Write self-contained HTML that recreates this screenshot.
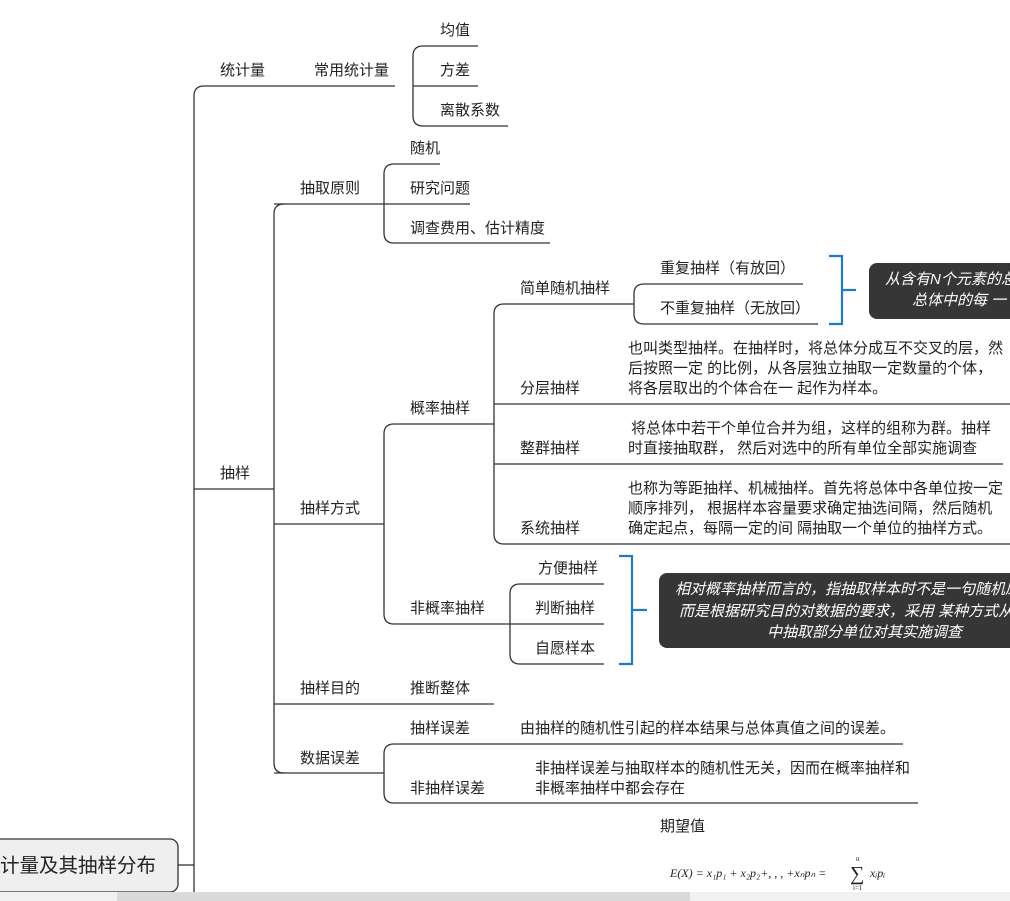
<!DOCTYPE html>
<html><head><meta charset="utf-8"><style>
html,body{margin:0;padding:0;background:#fff;width:1010px;height:901px;overflow:hidden}
svg{display:block}
text{font-family:"Liberation Sans","Noto Sans CJK SC",sans-serif;font-size:15px;fill:#222}
.w{fill:#fff;font-style:italic;font-size:15px}
</style></head><body>
<svg width="1010" height="901" viewBox="0 0 1010 901">
<g fill="none" stroke="#333" stroke-width="1.3">
<rect x="-20" y="839" width="198" height="53" rx="8" fill="#efefef"/>
<path d="M178 865 H194"/>
<path d="M204 86 Q194 86 194 96 V901"/>
<path d="M204 86 H395"/>
<path d="M423 46 Q413 46 413 56 V116 Q413 126 423 126"/>
<path d="M413 86 H478 M423 46 H478 M423 126 H508"/>
<path d="M194 489 H274"/>
<path d="M284 204 Q274 204 274 214 V763 Q274 773 284 773"/>
<path d="M274 204 H384"/>
<path d="M394 164 Q384 164 384 174 V233 Q384 243 394 243"/>
<path d="M394 164 H440 M384 204 H470 M394 243 H550"/>
<path d="M274 524 H384"/>
<path d="M394 424 Q384 424 384 434 V614 Q384 624 394 624"/>
<path d="M394 424 H494"/>
<path d="M504 304 Q494 304 494 314 V534 Q494 544 504 544"/>
<path d="M504 304 H634 M494 404 H1010 M494 464 H1003 M504 544 H1010"/>
<path d="M644 284 Q634 284 634 294 V314 Q634 324 644 324"/>
<path d="M644 284 H803 M644 324 H818"/>
<path d="M394 624 H494"/>
<path d="M520 584 Q510 584 510 594 V654 Q510 664 520 664"/>
<path d="M494 624 H604 M520 584 H604 M520 664 H604"/>
<path d="M274 704 H494"/>
<path d="M274 773 H384"/>
<path d="M394 744 Q384 744 384 754 V793 Q384 803 394 803"/>
<path d="M394 744 H903 M394 803 H918"/>
</g>
<g fill="none" stroke="#1f7ac9" stroke-width="2.2">
<path d="M829 256 H842 V324 H829 M842 290 H856"/>
<path d="M619 556 H632 V664 H619 M632 610 H647"/>
</g>
<rect x="869" y="263" width="160" height="56" rx="8" fill="#363636"/>
<text class="w" x="885" y="284">从含有N个元素的总体</text>
<text class="w" x="912" y="305">总体中的每 一</text>
<rect x="659" y="573" width="370" height="75" rx="8" fill="#363636"/>
<text class="w" x="675" y="594">相对概率抽样而言的，指抽取样本时不是一句随机原则</text>
<text class="w" x="679" y="616">而是根据研究目的对数据的要求，采用 某种方式从</text>
<text class="w" x="767" y="637">中抽取部分单位对其实施调查</text>

<text x="0" y="872" style="font-size:19.5px">计量及其抽样分布</text>
<text x="220" y="75">统计量</text>
<text x="314" y="75">常用统计量</text>
<text x="440" y="35">均值</text>
<text x="440" y="75">方差</text>
<text x="440" y="115">离散系数</text>
<text x="220" y="478">抽样</text>
<text x="300" y="193">抽取原则</text>
<text x="410" y="153">随机</text>
<text x="410" y="193">研究问题</text>
<text x="410" y="233">调查费用、估计精度</text>
<text x="300" y="513">抽样方式</text>
<text x="410" y="413">概率抽样</text>
<text x="520" y="293">简单随机抽样</text>
<text x="660" y="273">重复抽样（有放回）</text>
<text x="660" y="313">不重复抽样（无放回）</text>
<text x="520" y="393">分层抽样</text>
<text x="628" y="353">也叫类型抽样。在抽样时，将总体分成互不交叉的层，然</text>
<text x="628" y="373">后按照一定 的比例，从各层独立抽取一定数量的个体，</text>
<text x="628" y="393">将各层取出的个体合在一 起作为样本。</text>
<text x="520" y="453">整群抽样</text>
<text x="631" y="433">将总体中若干个单位合并为组，这样的组称为群。抽样</text>
<text x="628" y="453">时直接抽取群， 然后对选中的所有单位全部实施调查</text>
<text x="520" y="533">系统抽样</text>
<text x="628" y="493">也称为等距抽样、机械抽样。首先将总体中各单位按一定</text>
<text x="628" y="513">顺序排列， 根据样本容量要求确定抽选间隔，然后随机</text>
<text x="628" y="533">确定起点，每隔一定的间 隔抽取一个单位的抽样方式。</text>
<text x="410" y="613">非概率抽样</text>
<text x="538" y="573">方便抽样</text>
<text x="535" y="613">判断抽样</text>
<text x="535" y="653">自愿样本</text>
<text x="300" y="693">抽样目的</text>
<text x="410" y="693">推断整体</text>
<text x="300" y="763">数据误差</text>
<text x="410" y="733">抽样误差</text>
<text x="520" y="733">由抽样的随机性引起的样本结果与总体真值之间的误差。</text>
<text x="410" y="793">非抽样误差</text>
<text x="535" y="773">非抽样误差与抽取样本的随机性无关，因而在概率抽样和</text>
<text x="535" y="793">非概率抽样中都会存在</text>
<text x="660" y="831">期望值</text>
<text x="670" y="877" style="font-family:'Liberation Serif',serif;font-size:12px;font-style:italic">E(X) = x₁p₁ + x₂p₂+, , , +xₙpₙ = </text>
<text x="850" y="880" style="font-family:'Liberation Serif',serif;font-size:20px">∑</text>
<text x="870" y="877" style="font-family:'Liberation Serif',serif;font-size:12px;font-style:italic">xᵢpᵢ</text>
<text x="856" y="861" style="font-family:'Liberation Serif',serif;font-size:7px">n</text>
<text x="853" y="890" style="font-family:'Liberation Serif',serif;font-size:7px">i=1</text>
<rect x="0" y="892" width="1010" height="9" fill="#f1f1f1"/>
<rect x="117" y="892" width="573" height="9" fill="#dadada"/>
</svg>
</body></html>
